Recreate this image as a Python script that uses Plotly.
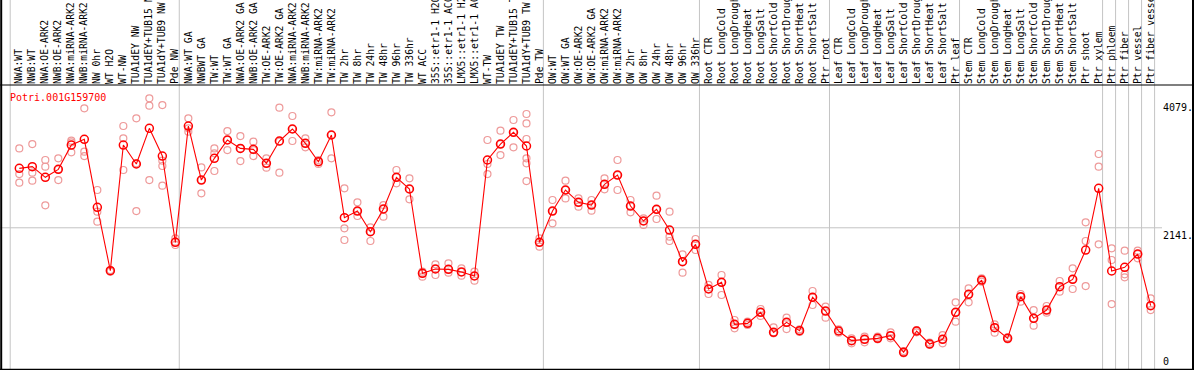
import plotly.graph_objects as go

gene = "Potri.001G159700"

labels = [
    "NWA:WT", "NWB:WT", "NWA:OE-ARK2", "NWB:OE-ARK2", "NWA:miRNA-ARK2", "NWB:miRNA-ARK2",
    "NW 0hr", "WT H2O", "WT-NW", "TUA1dEY NW", "TUA1dEY+TUB15 NW", "TUA1dY+TUB9 NW", "Pde NW",
    "NWA:WT GA", "NWBWT GA", "TW:WT", "TW:WT GA", "NWA:OE-ARK2 GA", "NWB:OE-ARK2 GA",
    "TW:OE-ARK2", "TW:OE-ARK2 GA", "NWA:miRNA-ARK2 GA", "NWB:miRNA-ARK2 GA", "TW:miRNA-ARK2",
    "TW:miRNA-ARK2", "TW 2hr", "TW 8hr", "TW 24hr", "TW 48hr", "TW 96hr", "TW 336hr", "WT ACC",
    "35S::etr1-1 H2O", "35S::etr1-1 ACC", "LMX5::etr1-1 H2O", "LMX5::etr1-1 ACC", "WT-TW",
    "TUA1dEY TW", "TUA1dEY+TUB15 TW", "TUA1dY+TUB9 TW", "Pde TW",
    "OW:WT", "OW:WT GA", "OW:OE-ARK2", "OW:OE-ARK2 GA", "OW:miRNA-ARK2", "OW:miRNA-ARK2",
    "OW 2hr", "OW 8hr", "OW 24hr", "OW 48hr", "OW 96hr", "OW 336hr",
    "Root CTR", "Root LongCold", "Root LongDrought", "Root LongHeat", "Root LongSalt",
    "Root ShortCold", "Root ShortDrought", "Root ShortHeat", "Root ShortSalt", "Ptr root",
    "Leaf CTR", "Leaf LongCold", "Leaf LongDrought", "Leaf LongHeat", "Leaf LongSalt",
    "Leaf ShortCold", "Leaf ShortDrought", "Leaf ShortHeat", "Leaf ShortSalt", "Ptr leaf",
    "Stem CTR", "Stem LongCold", "Stem LongDrought", "Stem LongHeat", "Stem LongSalt",
    "Stem ShortCold", "Stem ShortDrought", "Stem ShortHeat", "Stem ShortSalt",
    "Ptr shoot", "Ptr xylem", "Ptr phloem", "Ptr fiber", "Ptr vessel", "Ptr fiber vessel",
]

means = [
    3042, 3068, 2906, 3027, 3396, 3482, 2451, 1491, 3396, 3108, 3649, 3229, 1920,
    3684, 2865, 3194, 3472, 3345, 3330, 3118, 3457, 3639, 3421, 3143, 3548,
    2294, 2395, 2082, 2426, 2906, 2729, 1450, 1516, 1511, 1471, 1410,
    3169, 3411, 3588, 3381, 1920,
    2395, 2714, 2527, 2486, 2800, 2941, 2471, 2244, 2421, 2107, 1627, 1890,
    1213, 1314, 677, 692, 859, 556, 708, 581, 1087, 879,
    576, 430, 450, 465, 505, 253, 576, 379, 450, 859,
    1132, 1349, 627, 465, 1097, 768, 894, 1248, 1359,
    1804, 2739, 1486, 1541, 1743, 960,
]

replicates = [
    [3345, 2956, 2825], [3411, 2977, 2855], [3169, 3068, 2481], [3194, 3027, 2865],
    [3462, 3436, 3285], [3952, 3295, 3229], [2714, 2385, 2234], [1501, 1491, 1476],
    [3684, 3497, 3017], [3800, 3118, 2395], [4104, 3992, 2865], [4002, 3159, 3078, 2779],
    [1981, 1930, 1880], [3800, 3649, 3598], [3057, 2865, 2663], [3345, 3270, 3002],
    [3608, 3472, 3320], [3532, 3345, 3153], [3447, 3320, 3229], [3194, 3118, 3052],
    [3962, 3447, 2977], [3836, 3639, 3457], [3497, 3421, 3361], [3169, 3143, 3108],
    [3891, 3548, 3194], [2739, 2133, 1956], [2527, 2395, 2320], [2148, 2082, 1941],
    [2486, 2426, 2309], [3017, 2906, 2815], [2891, 2729, 2572], [1476, 1450, 1400],
    [1587, 1516, 1425], [1602, 1511, 1460], [1526, 1471, 1415], [1476, 1410, 1339],
    [3472, 3108, 2956], [3613, 3411, 3244], [3775, 3588, 3361],
    [3866, 3724, 3487, 3194, 3118, 2850], [1981, 1920, 1855],
    [2562, 2395, 2208], [2855, 2714, 2587], [2587, 2527, 2461], [2562, 2486, 2400],
    [2891, 2800, 2724], [3169, 2941, 2714], [2562, 2471, 2375], [2284, 2244, 2183],
    [2628, 2421, 2274], [2385, 2006, 1941], [1738, 1627, 1460], [1971, 1890, 1804],
    [1274, 1213, 1137], [1425, 1314, 1122], [743, 677, 617], [718, 692, 667],
    [910, 859, 804], [632, 556, 541], [778, 708, 606], [601, 581, 561],
    [1183, 1087, 970], [945, 879, 778],
    [601, 576, 551], [465, 430, 389], [490, 450, 404], [490, 465, 450], [556, 505, 465],
    [273, 253, 238], [591, 576, 556], [364, 379, 399], [515, 450, 389], [1011, 859, 718],
    [1223, 1132, 1011], [1374, 1349, 1324], [677, 627, 551], [480, 465, 450],
    [1137, 1097, 1021], [894, 768, 657], [955, 894, 854], [1334, 1248, 1172],
    [1526, 1359, 1213],
    [2224, 1941, 1258], [3260, 3068, 1890], [1829, 1653, 985], [1794, 1435, 1390],
    [1794, 1743, 1678], [1071, 960, 894],
]

group_ends = [0, 13, 41, 53, 63, 73, 84, 85, 86, 87, 88]
y_tick_values = [4079, 2141, 0]
y_tick_labels = ["4079.", "2141.", "0"]

W, H = 1194, 370
MONO = "DejaVu Sans Mono"
xs = list(range(1, len(labels) + 1))

rep_x, rep_y = [], []
for i, reps in zip(xs, replicates):
    for v in reps:
        rep_x.append(i)
        rep_y.append(v)

fig = go.Figure()
fig.add_trace(go.Scatter(
    x=rep_x, y=rep_y, mode="markers", cliponaxis=False, hoverinfo="skip",
    marker=dict(symbol="circle-open", size=7, color="#ee9a9a", line=dict(width=1.2)),
))
fig.add_trace(go.Scatter(
    x=xs, y=means, mode="lines+markers", cliponaxis=False,
    line=dict(color="#ff0000", width=1.1),
    marker=dict(symbol="circle-open", size=8, color="#ff0000", line=dict(width=1.5)),
))

def px_x(p):
    return p / W

def px_y(p):
    return (H - p) / H

shapes = []
for e in group_ends:
    shapes.append(dict(type="line", xref="x", yref="paper", x0=e + 0.3, x1=e + 0.3,
                       y0=px_y(369), y1=1, line=dict(color="#c4c4c4", width=1), layer="below"))
shapes.append(dict(type="line", xref="paper", yref="y", x0=0, x1=px_x(1162),
                   y0=y_tick_values[1], y1=y_tick_values[1],
                   line=dict(color="#c4c4c4", width=1), layer="below"))
shapes.append(dict(type="line", xref="paper", yref="paper", x0=0, x1=1, y0=px_y(85), y1=px_y(85),
                   line=dict(color="black", width=1.2)))
shapes.append(dict(type="line", xref="paper", yref="paper", x0=0, x1=1, y0=px_y(369.5), y1=px_y(369.5),
                   line=dict(color="black", width=1.5)))
shapes.append(dict(type="line", xref="paper", yref="paper", x0=px_x(1.2), x1=px_x(1.2), y0=0, y1=1,
                   line=dict(color="black", width=2)))
shapes.append(dict(type="line", xref="paper", yref="paper", x0=px_x(1193), x1=px_x(1193), y0=0, y1=1,
                   line=dict(color="black", width=2)))

annotations = [dict(xref="paper", yref="paper", x=px_x(8), y=px_y(97), xanchor="left", yanchor="middle",
                    text=gene, showarrow=False, font=dict(family=MONO, size=10, color="#ff0000"))]
for v, t in zip(y_tick_values, y_tick_labels):
    annotations.append(dict(xref="paper", yref="y", x=px_x(1161), y=v, xanchor="left",
                            yanchor="bottom" if v == 0 else "top", text=t, showarrow=False,
                            font=dict(family=MONO, size=10, color="black")))

fig.update_layout(
    width=W, height=H, margin=dict(l=0, r=0, t=0, b=0),
    paper_bgcolor="white", plot_bgcolor="rgba(0,0,0,0)", showlegend=False,
    shapes=shapes, annotations=annotations,
    xaxis=dict(domain=[0, 1], range=[-0.484, 91.33], side="top", tickmode="array",
               tickvals=xs, ticktext=labels, tickangle=-90, ticks="", showgrid=False,
               zeroline=False, showline=False, automargin=False,
               tickfont=dict(family=MONO, size=9.7, color="black")),
    yaxis=dict(domain=[px_y(369), px_y(85)], range=[0, 4306], visible=False,
               showgrid=False, zeroline=False, automargin=False),
)

fig.write_html(
    "out.html",
    config={"displayModeBar": False},
    post_script="document.body.style.margin='0';document.body.style.padding='0';"
                "document.body.style.overflow='hidden';"
                "document.documentElement.style.overflow='hidden';",
)
